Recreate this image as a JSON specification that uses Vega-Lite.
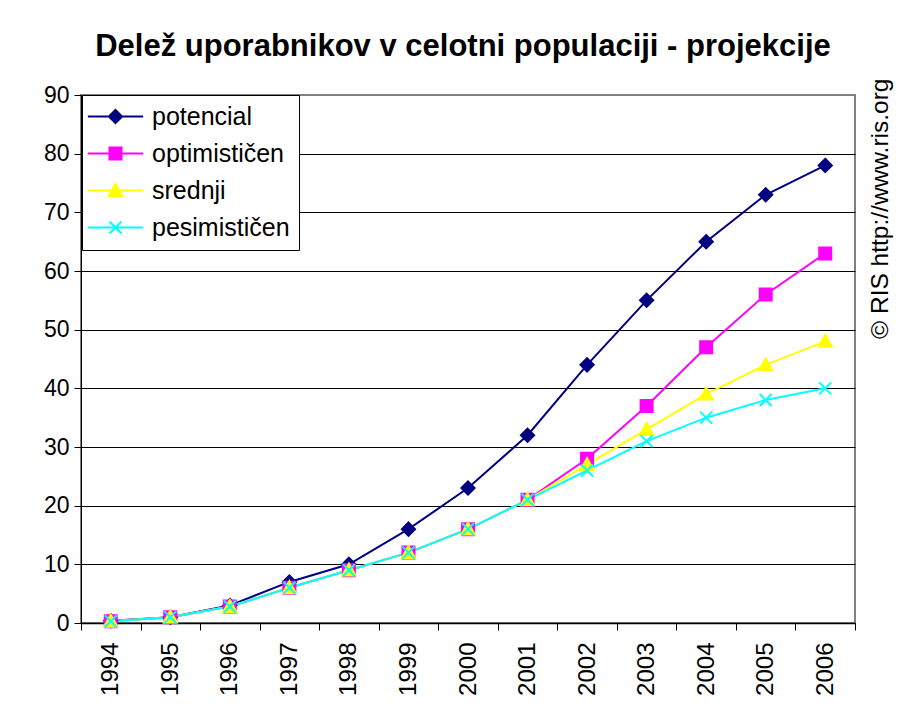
{
  "$schema": "https://vega.github.io/schema/vega-lite/v6.json",
  "autosize": "none",
  "width": 774,
  "height": 528,
  "padding": {"left": 81, "top": 95, "right": 63, "bottom": 87},
  "background": "white",
  "title": {
    "text": "Delež uporabnikov v celotni populaciji - projekcije",
    "font": "Liberation Sans",
    "fontSize": 31,
    "fontWeight": "bold",
    "color": "black",
    "anchor": "middle",
    "frame": "group",
    "offset": 15,
    "dx": -5
  },
  "config": {
    "font": "Liberation Sans",
    "view": {"stroke": "#808080", "strokeWidth": 2},
    "axis": {"labelColor": "black", "labelFont": "Liberation Sans", "domainColor": "black", "tickColor": "black"},
    "legend": {
      "title": null,
      "orient": "none",
      "legendX": 1,
      "legendY": 0,
      "fillColor": "white",
      "strokeColor": "black",
      "padding": 9,
      "symbolOffset": 12,
      "labelOffset": 24,
      "labelFontSize": 25,
      "labelFont": "Liberation Sans",
      "labelColor": "black",
      "rowPadding": 11,
      "symbolSize": 144,
      "symbolStrokeWidth": 2
    }
  },
  "data": {
    "values": [
      {"year": "1994", "series": "potencial", "value": 0.4},
      {"year": "1995", "series": "potencial", "value": 1},
      {"year": "1996", "series": "potencial", "value": 3},
      {"year": "1997", "series": "potencial", "value": 7},
      {"year": "1998", "series": "potencial", "value": 10},
      {"year": "1999", "series": "potencial", "value": 16},
      {"year": "2000", "series": "potencial", "value": 23},
      {"year": "2001", "series": "potencial", "value": 32},
      {"year": "2002", "series": "potencial", "value": 44},
      {"year": "2003", "series": "potencial", "value": 55},
      {"year": "2004", "series": "potencial", "value": 65},
      {"year": "2005", "series": "potencial", "value": 73},
      {"year": "2006", "series": "potencial", "value": 78},
      {"year": "1994", "series": "optimističen", "value": 0.3},
      {"year": "1995", "series": "optimističen", "value": 1},
      {"year": "1996", "series": "optimističen", "value": 2.8},
      {"year": "1997", "series": "optimističen", "value": 6},
      {"year": "1998", "series": "optimističen", "value": 9},
      {"year": "1999", "series": "optimističen", "value": 12},
      {"year": "2000", "series": "optimističen", "value": 16},
      {"year": "2001", "series": "optimističen", "value": 21},
      {"year": "2002", "series": "optimističen", "value": 28},
      {"year": "2003", "series": "optimističen", "value": 37},
      {"year": "2004", "series": "optimističen", "value": 47},
      {"year": "2005", "series": "optimističen", "value": 56},
      {"year": "2006", "series": "optimističen", "value": 63},
      {"year": "1994", "series": "srednji", "value": 0.3},
      {"year": "1995", "series": "srednji", "value": 1},
      {"year": "1996", "series": "srednji", "value": 2.8},
      {"year": "1997", "series": "srednji", "value": 6},
      {"year": "1998", "series": "srednji", "value": 9},
      {"year": "1999", "series": "srednji", "value": 12},
      {"year": "2000", "series": "srednji", "value": 16},
      {"year": "2001", "series": "srednji", "value": 21},
      {"year": "2002", "series": "srednji", "value": 27},
      {"year": "2003", "series": "srednji", "value": 33},
      {"year": "2004", "series": "srednji", "value": 39},
      {"year": "2005", "series": "srednji", "value": 44},
      {"year": "2006", "series": "srednji", "value": 48},
      {"year": "1994", "series": "pesimističen", "value": 0.3},
      {"year": "1995", "series": "pesimističen", "value": 1},
      {"year": "1996", "series": "pesimističen", "value": 2.8},
      {"year": "1997", "series": "pesimističen", "value": 6},
      {"year": "1998", "series": "pesimističen", "value": 9},
      {"year": "1999", "series": "pesimističen", "value": 12},
      {"year": "2000", "series": "pesimističen", "value": 16},
      {"year": "2001", "series": "pesimističen", "value": 21},
      {"year": "2002", "series": "pesimističen", "value": 26},
      {"year": "2003", "series": "pesimističen", "value": 31},
      {"year": "2004", "series": "pesimističen", "value": 35},
      {"year": "2005", "series": "pesimističen", "value": 38},
      {"year": "2006", "series": "pesimističen", "value": 40}
    ]
  },
  "encoding": {
    "x": {
      "field": "year",
      "type": "ordinal",
      "bandPosition": 0.5,
      "scale": {"type": "band", "paddingInner": 0, "paddingOuter": 0},
      "axis": {
        "title": null,
        "tickBand": "extent",
        "labelAngle": 270,
        "labelFontSize": 24,
        "labelPadding": 12,
        "tickSize": 7,
        "domainWidth": 1.5,
        "grid": false
      }
    }
  },
  "layer": [
    {
      "mark": {"type": "line", "strokeWidth": 2},
      "encoding": {
        "y": {
          "field": "value",
          "type": "quantitative",
          "scale": {"domain": [0, 90], "nice": false},
          "axis": {
            "title": null,
            "values": [0, 10, 20, 30, 40, 50, 60, 70, 80, 90],
            "tickSize": 7,
            "labelPadding": 5,
            "labelFontSize": 23,
            "grid": true,
            "gridColor": {"condition": {"test": "datum.value == 90", "value": "#808080"}, "value": "black"},
            "gridWidth": 1
          }
        },
        "color": {
          "field": "series",
          "type": "nominal",
          "scale": {
            "domain": ["potencial", "optimističen", "srednji", "pesimističen"],
            "range": ["#000080", "#FF00FF", "#FFFF00", "#00FFFF"]
          },
          "legend": null
        }
      }
    },
    {
      "mark": {"type": "point", "filled": true, "size": 144, "strokeWidth": 2, "opacity": 1},
      "encoding": {
        "y": {
          "field": "value",
          "type": "quantitative",
          "axis": {
            "orient": "right",
            "labels": false,
            "ticks": false,
            "domain": false,
            "grid": false,
            "title": "© RIS http://www.ris.org",
            "titleFont": "Liberation Sans",
            "titleFontSize": 24.5,
            "titleFontWeight": "normal",
            "titleColor": "black",
            "titleAngle": 270,
            "titleAlign": "right",
            "titleBaseline": "middle",
            "titleX": 25,
            "titleY": -17
          }
        },
        "color": {
          "field": "series",
          "type": "nominal",
          "scale": {
            "domain": ["potencial", "optimističen", "srednji", "pesimističen"],
            "range": ["#000080", "#FF00FF", "#FFFF00", "#00FFFF"]
          },
          "legend": null
        },
        "stroke": {
          "field": "series",
          "type": "nominal",
          "scale": {
            "domain": ["potencial", "optimističen", "srednji", "pesimističen"],
            "range": ["#000080", "#FF00FF", "#FFFF00", "#00FFFF"]
          },
          "legend": null
        },
        "shape": {
          "field": "series",
          "type": "nominal",
          "scale": {
            "domain": ["potencial", "optimističen", "srednji", "pesimističen"],
            "range": ["M0,-1.1L1.1,0L0,1.1L-1.1,0Z", "M-1,-1H1V1H-1Z", "M0,-1.1L1.1,0.9H-1.1Z", "M-1,-1L1,1M1,-1L-1,1"]
          },
          "legend": null
        }
      }
    },
    {
      "transform": [{"filter": "false"}],
      "mark": {"type": "point", "filled": true, "size": 144, "strokeWidth": 2, "opacity": 1},
      "encoding": {
        "y": {"field": "value", "type": "quantitative", "axis": null},
        "color": {
          "field": "series",
          "type": "nominal",
          "scale": {
            "domain": ["potencial", "optimističen", "srednji", "pesimističen"],
            "range": ["#000080", "#FF00FF", "#FFFF00", "#00FFFF"]
          }
        },
        "stroke": {
          "field": "series",
          "type": "nominal",
          "scale": {
            "domain": ["potencial", "optimističen", "srednji", "pesimističen"],
            "range": ["#000080", "#FF00FF", "#FFFF00", "#00FFFF"]
          }
        },
        "shape": {
          "field": "series",
          "type": "nominal",
          "scale": {
            "domain": ["potencial", "optimističen", "srednji", "pesimističen"],
            "range": ["M-4.6,0H4.6M0,-1.1L1.1,0L0,1.1L-1.1,0Z", "M-4.6,0H4.6M-1,-1H1V1H-1Z", "M-4.6,0H4.6M0,-1.1L1.1,0.9H-1.1Z", "M-4.6,0H4.6M-1,-1L1,1M1,-1L-1,1"]
          }
        }
      }
    }
  ],
  "resolve": {
    "axis": {"y": "independent"},
    "scale": {"color": "independent", "stroke": "independent", "shape": "independent"}
  }
}
